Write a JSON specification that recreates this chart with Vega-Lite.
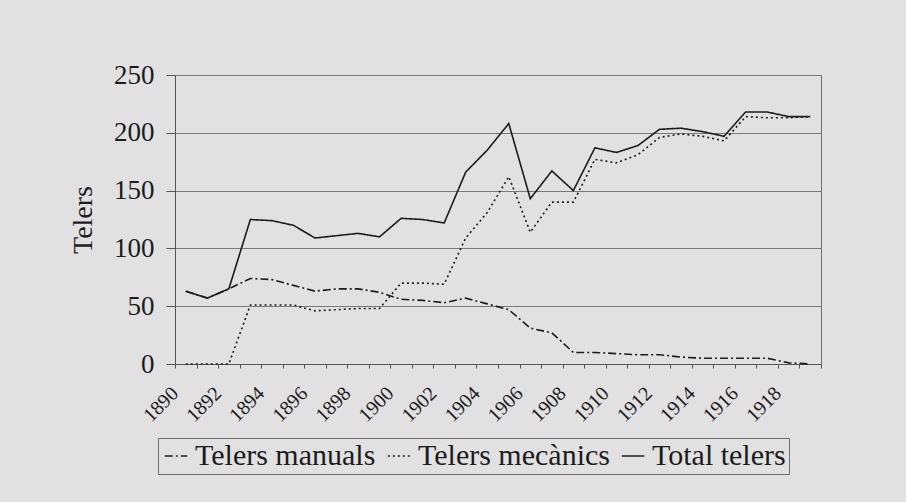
{
  "$schema": "https://vega.github.io/schema/vega-lite/v6.json",
  "width": 646,
  "height": 289,
  "autosize": "none",
  "padding": {"left": 175, "top": 75, "right": 85, "bottom": 138},
  "background": "#e1e1e1",
  "config": {
    "font": "Times New Roman, Liberation Serif, serif",
    "view": {"stroke": "#707070", "strokeWidth": 1},
    "axis": {"labelFont": "Times New Roman, Liberation Serif, serif", "titleFont": "Times New Roman, Liberation Serif, serif"},
    "legend": {"labelFont": "Times New Roman, Liberation Serif, serif", "titleFont": "Times New Roman, Liberation Serif, serif"}
  },
  "data": {
    "values": [
      {"any": 1890, "Telers manuals": 63, "Telers mecànics": 0, "Total telers": 63},
      {"any": 1891, "Telers manuals": 57, "Telers mecànics": 0, "Total telers": 57},
      {"any": 1892, "Telers manuals": 65, "Telers mecànics": 0, "Total telers": 65},
      {"any": 1893, "Telers manuals": 74, "Telers mecànics": 51, "Total telers": 125},
      {"any": 1894, "Telers manuals": 73, "Telers mecànics": 51, "Total telers": 124},
      {"any": 1895, "Telers manuals": 68, "Telers mecànics": 51, "Total telers": 120},
      {"any": 1896, "Telers manuals": 63, "Telers mecànics": 46, "Total telers": 109},
      {"any": 1897, "Telers manuals": 65, "Telers mecànics": 47, "Total telers": 111},
      {"any": 1898, "Telers manuals": 65, "Telers mecànics": 48, "Total telers": 113},
      {"any": 1899, "Telers manuals": 62, "Telers mecànics": 48, "Total telers": 110},
      {"any": 1900, "Telers manuals": 56, "Telers mecànics": 70, "Total telers": 126},
      {"any": 1901, "Telers manuals": 55, "Telers mecànics": 70, "Total telers": 125},
      {"any": 1902, "Telers manuals": 53, "Telers mecànics": 69, "Total telers": 122},
      {"any": 1903, "Telers manuals": 57, "Telers mecànics": 109, "Total telers": 166},
      {"any": 1904, "Telers manuals": 52, "Telers mecànics": 131, "Total telers": 185},
      {"any": 1905, "Telers manuals": 47, "Telers mecànics": 162, "Total telers": 208},
      {"any": 1906, "Telers manuals": 31, "Telers mecànics": 114, "Total telers": 143},
      {"any": 1907, "Telers manuals": 27, "Telers mecànics": 140, "Total telers": 167},
      {"any": 1908, "Telers manuals": 10, "Telers mecànics": 140, "Total telers": 150},
      {"any": 1909, "Telers manuals": 10, "Telers mecànics": 177, "Total telers": 187},
      {"any": 1910, "Telers manuals": 9, "Telers mecànics": 174, "Total telers": 183},
      {"any": 1911, "Telers manuals": 8, "Telers mecànics": 181, "Total telers": 189},
      {"any": 1912, "Telers manuals": 8, "Telers mecànics": 196, "Total telers": 203},
      {"any": 1913, "Telers manuals": 6, "Telers mecànics": 199, "Total telers": 204},
      {"any": 1914, "Telers manuals": 5, "Telers mecànics": 197, "Total telers": 201},
      {"any": 1915, "Telers manuals": 5, "Telers mecànics": 193, "Total telers": 197},
      {"any": 1916, "Telers manuals": 5, "Telers mecànics": 214, "Total telers": 218},
      {"any": 1917, "Telers manuals": 5, "Telers mecànics": 213, "Total telers": 218},
      {"any": 1918, "Telers manuals": 1, "Telers mecànics": 213, "Total telers": 214},
      {"any": 1919, "Telers manuals": 0, "Telers mecànics": 214, "Total telers": 214}
    ]
  },
  "transform": [
    {"fold": ["Telers manuals", "Telers mecànics", "Total telers"], "as": ["serie", "valor"]}
  ],
  "mark": {"type": "line", "color": "#1c1c1c", "strokeWidth": 1.6},
  "encoding": {
    "x": {
      "field": "any",
      "type": "ordinal",
      "bandPosition": 0.5,
      "scale": {"type": "band", "paddingInner": 0, "paddingOuter": 0},
      "axis": {
        "title": null,
        "tickBand": "extent",
        "labelExpr": "datum.value % 2 == 0 ? datum.label : ''",
        "labelAngle": -45,
        "labelAlign": "right",
        "labelBaseline": "middle",
        "labelFontSize": 20,
        "labelColor": "#1c1c1c",
        "labelPadding": 22,
        "labelOffset": -11,
        "tickSize": 4,
        "tickColor": "#555",
        "domainColor": "#555",
        "grid": false
      }
    },
    "y": {
      "field": "valor",
      "type": "quantitative",
      "scale": {"domain": [0, 250], "nice": false},
      "axis": {
        "title": "Telers",
        "titleFontSize": 28,
        "titleFontWeight": "normal",
        "titleColor": "#1c1c1c",
        "titlePadding": 16,
        "values": [0, 50, 100, 150, 200, 250],
        "labelFontSize": 27,
        "labelColor": "#1c1c1c",
        "labelPadding": 12,
        "tickSize": 9,
        "tickColor": "#555",
        "domainColor": "#555",
        "gridColor": "#7a7a7a",
        "gridWidth": 1
      }
    },
    "strokeDash": {
      "field": "serie",
      "type": "nominal",
      "scale": {
        "domain": ["Telers manuals", "Telers mecànics", "Total telers"],
        "range": [[8, 3, 2, 3], [2, 3], [1, 0]]
      },
      "legend": {
        "title": null,
        "orient": "none",
        "direction": "horizontal",
        "legendX": -17,
        "legendY": 363,
        "symbolType": "stroke",
        "symbolSize": 500,
        "symbolStrokeColor": "#1c1c1c",
        "symbolStrokeWidth": 1.3,
        "labelFontSize": 30,
        "labelColor": "#1c1c1c",
        "labelOffset": 4,
        "columnPadding": 8,
        "padding": 3,
        "strokeColor": "#707070",
        "labelLimit": 400
      }
    }
  }
}
